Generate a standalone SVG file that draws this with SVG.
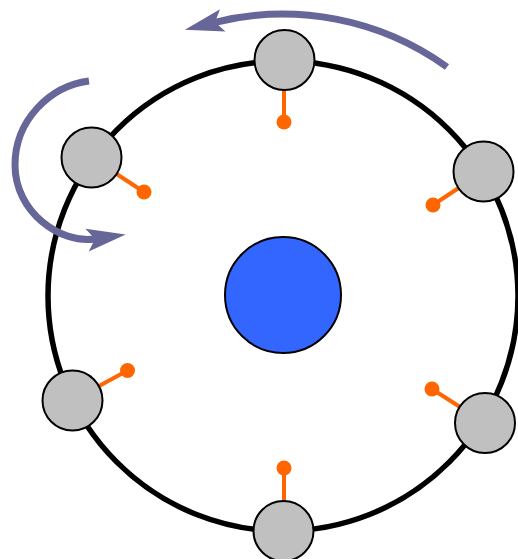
<svg xmlns="http://www.w3.org/2000/svg" width="518" height="559" viewBox="0 0 518 559">
<style>
.ring{fill:none;stroke:#000;stroke-width:5.5}
.sat{fill:#c0c0c0;stroke:#000;stroke-width:2}
.stick{stroke:#ff6600;stroke-width:4;fill:none}
.dot{fill:#ff6600}
.core{fill:#3366ff;stroke:#000;stroke-width:2}
.rot{fill:none;stroke:#666699;stroke-width:7;marker-end:url(#head)}
</style>
<defs>
<marker id="head" markerUnits="userSpaceOnUse" orient="auto" viewBox="-10 -14 44 28" markerWidth="44" markerHeight="28" refX="0" refY="0" overflow="visible">
<path d="M31 0 L-8 -11.5 L0 0 L-8 11.5 Z" fill="#666699"/>
</marker>
</defs>
<rect width="518" height="559" fill="#fff"/>
<g id="ring"><circle class="ring" cx="283" cy="296" r="235"/></g>
<g id="sat-top"><line class="stick" x1="284" y1="60" x2="284" y2="122"/><circle class="dot" cx="284" cy="122" r="7.5"/><circle class="sat" cx="284.5" cy="60" r="30"/></g>
<g id="sat-topright"><line class="stick" x1="483.5" y1="171.5" x2="433" y2="205"/><circle class="dot" cx="433" cy="205" r="7.5"/><circle class="sat" cx="483.5" cy="171.5" r="30"/></g>
<g id="sat-bottomright"><line class="stick" x1="485" y1="423" x2="432" y2="389"/><circle class="dot" cx="432" cy="389" r="7.5"/><circle class="sat" cx="485" cy="423" r="30"/></g>
<g id="sat-bottom"><line class="stick" x1="284" y1="531" x2="284" y2="468"/><circle class="dot" cx="284" cy="468" r="7.5"/><circle class="sat" cx="283.5" cy="531" r="30"/></g>
<g id="sat-left"><line class="stick" x1="72.5" y1="400.5" x2="127.5" y2="370.5"/><circle class="dot" cx="127.5" cy="370.5" r="7.5"/><circle class="sat" cx="72.5" cy="400.5" r="30"/></g>
<g id="sat-topleft"><line class="stick" x1="91.5" y1="157.5" x2="144" y2="192"/><circle class="dot" cx="144" cy="192" r="7.5"/><circle class="sat" cx="91.5" cy="157.5" r="30"/></g>
<g id="core"><circle class="core" cx="283" cy="295" r="58"/></g>
<g id="connectors">
<path class="rot" d="M447 67 A282 282 0 0 0 215 22.3"/>
<path class="rot" d="M89 81 C50 86 15 120 15 165 C15 212 60 244 95 239"/>
</g>
</svg>
